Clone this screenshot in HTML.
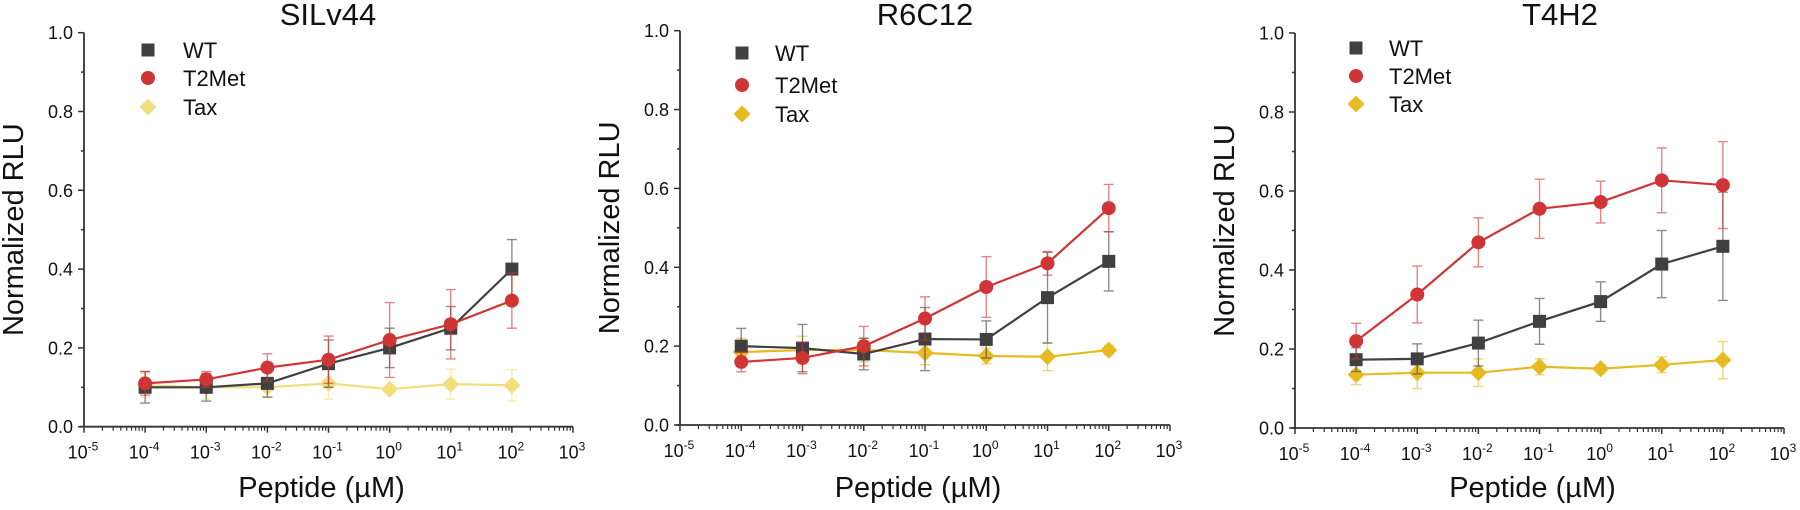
<!DOCTYPE html>
<html><head><meta charset="utf-8">
<style>
html,body{margin:0;padding:0;background:#fff;}
svg text{font-family:"Liberation Sans",Arial,sans-serif;fill:#111;}
</style></head>
<body>
<svg id="s" xmlns="http://www.w3.org/2000/svg" width="1800" height="505" viewBox="0 0 1800 505"></svg>
<script>
const S=document.getElementById('s');let h='';
const panels=[
 {L:84,R:573,Y0:426.7,Y1:32.7,title:'SILv44',tx:328,lx:148,ltx:183,ly:[50,78,107],tax:'#f2de7c',
  wt:[[.10,.04],[.10,.035],[.11,.035],[.16,.06],[.20,.05],[.25,.055],[.40,.075]],
  t2:[[.11,.03],[.12,.02],[.15,.035],[.17,.06],[.22,.095],[.26,.088],[.32,.07]],
  tx_:[[.105,.03],[.10,.03],[.10,.025],[.11,.04],[.095,.01],[.108,.038],[.105,.04]]},
 {L:680,R:1170,Y0:425,Y1:30.7,title:'R6C12',tx:925,lx:742,ltx:775,ly:[53,85,114],tax:'#e8ba22',
  wt:[[.20,.045],[.195,.06],[.18,.04],[.218,.08],[.217,.047],[.323,.115],[.415,.075]],
  t2:[[.16,.025],[.17,.04],[.20,.05],[.27,.055],[.35,.077],[.41,.03],[.55,.06]],
  tx_:[[.185,.035],[.19,.035],[.19,.03],[.183,.03],[.175,.02],[.173,.035],[.19,.012]]},
 {L:1295,R:1784,Y0:428,Y1:33,title:'T4H2',tx:1560,lx:1356,ltx:1389,ly:[48,76,104],tax:'#e8ba22',
  wt:[[.173,.03],[.175,.038],[.215,.058],[.27,.058],[.32,.05],[.415,.085],[.46,.137]],
  t2:[[.22,.045],[.338,.072],[.47,.062],[.555,.075],[.572,.053],[.627,.082],[.615,.11]],
  tx_:[[.135,.025],[.14,.04],[.14,.035],[.155,.02],[.15,.01],[.16,.02],[.172,.047]]}
];
function mk(t,x,y,c){
 if(t==0)return `<rect x="${x-6.5}" y="${y-6.5}" width="13" height="13" fill="${c}"/>`;
 if(t==1)return `<circle cx="${x}" cy="${y}" r="7" fill="${c}"/>`;
 return `<polygon points="${x},${y-8.5} ${x+8.5},${y} ${x},${y+8.5} ${x-8.5},${y}" fill="${c}"/>`;
}
panels.forEach(p=>{
 const dx=(p.R-p.L)/8;
 const X=e=>p.L+(e+5)*dx, Y=v=>p.Y0-(p.Y0-p.Y1)*v;
 h+=`<line x1="${p.L}" y1="${p.Y1}" x2="${p.L}" y2="${p.Y0}" stroke="#333" stroke-width="1.8"/>`;
 h+=`<line x1="${p.L-4}" y1="${p.Y0}" x2="${p.R}" y2="${p.Y0}" stroke="#333" stroke-width="1.8"/>`;
 for(let i=0;i<=10;i++){const y=Y(i/10);const maj=i%2==0;
  h+=`<line x1="${p.L-(maj?6:3)}" y1="${y}" x2="${p.L}" y2="${y}" stroke="#333" stroke-width="1.5"/>`;
  if(maj)h+=`<text x="${p.L-11}" y="${y+6.5}" font-size="18" text-anchor="end" fill="#222">${(i/10).toFixed(1)}</text>`;}
 for(let e=-5;e<=3;e++){const x=X(e);
  h+=`<line x1="${x}" y1="${p.Y0}" x2="${x}" y2="${p.Y0+6}" stroke="#333" stroke-width="1.5"/>`;
  h+=`<text x="${x-1}" y="${p.Y0+32}" font-size="18" text-anchor="middle" fill="#222">10<tspan font-size="12" dy="-8">${e<0?'-'+(-e):e}</tspan></text>`;
  if(e<3)for(let k=2;k<10;k++){const xm=x+Math.log10(k)*dx;h+=`<line x1="${xm}" y1="${p.Y0}" x2="${xm}" y2="${p.Y0+4}" stroke="#333" stroke-width="1.2"/>`;}}
 h+=`<text x="${p.tx}" y="25" font-size="31" text-anchor="middle">${p.title}</text>`;
 h+=`<text x="${(p.L+p.R)/2-7}" y="497" font-size="29" text-anchor="middle">Peptide (µM)</text>`;
 h+=`<text transform="translate(${p.L-61},${(p.Y0+p.Y1)/2}) rotate(-90)" font-size="29" text-anchor="middle">Normalized RLU</text>`;
 const ser=[[p.tx_,p.tax,2],[p.wt,'#404040',0],[p.t2,'#d03535',1]];
 ser.forEach(([d,c,t])=>{
  d.forEach(([v,er],i)=>{const x=X(i-4);
   h+=`<g stroke="${c}" stroke-width="1.4" opacity="0.6"><line x1="${x}" y1="${Y(v-er)}" x2="${x}" y2="${Y(v+er)}"/><line x1="${x-5}" y1="${Y(v-er)}" x2="${x+5}" y2="${Y(v-er)}"/><line x1="${x-5}" y1="${Y(v+er)}" x2="${x+5}" y2="${Y(v+er)}"/></g>`;});
  h+=`<polyline fill="none" stroke="${c}" stroke-width="2.2" points="${d.map(([v],i)=>X(i-4)+','+Y(v)).join(' ')}"/>`;
  d.forEach(([v],i)=>{h+=mk(t,X(i-4),Y(v),c);});
 });
 const names=['WT','T2Met','Tax'],cols=['#404040','#d03535',p.tax];
 for(let i=0;i<3;i++){h+=mk(i,p.lx,p.ly[i],cols[i]);h+=`<text x="${p.ltx}" y="${p.ly[i]+8}" font-size="22">${names[i]}</text>`;}
});
S.innerHTML=h;
</script>
</body></html>
